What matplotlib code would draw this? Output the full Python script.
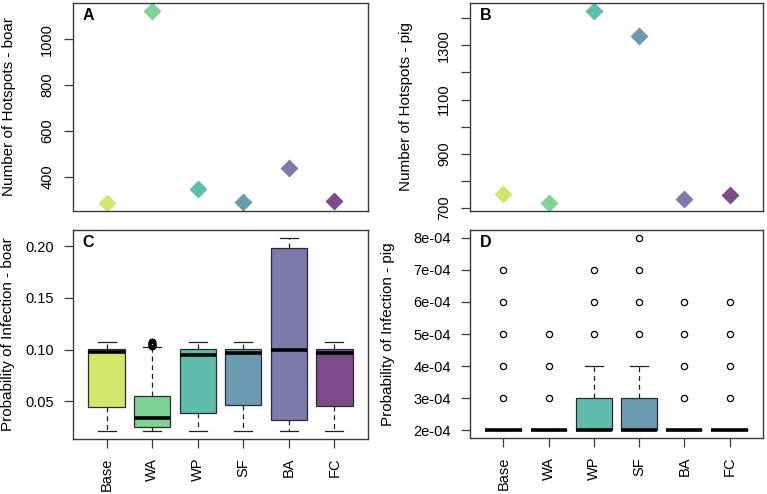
import matplotlib
matplotlib.use('Agg')
import matplotlib.pyplot as plt

plt.rcParams['font.family'] = ['Liberation Sans', 'DejaVu Sans']

# scenarios and colours
groups = ['Base', 'WA', 'WP', 'SF', 'BA', 'FC']
colors = ['#D2E66B', '#80D395', '#60BDAC', '#6A9BB1', '#7B7AAA', '#7D4B87']

# number of hotspots per scenario
hotspots_boar = [284, 1125, 345, 291, 440, 293]
hotspots_pig = [753, 718, 1427, 1333, 732, 748]

# boxplot stats - probability of infection, boar
boar_lo = [0.021, 0.021, 0.021, 0.021, 0.021, 0.021]
boar_q1 = [0.0448, 0.0255, 0.0383, 0.0465, 0.0319, 0.0458]
boar_med = [0.0974, 0.0338, 0.0948, 0.0971, 0.0992, 0.0970]
boar_q3 = [0.1006, 0.0555, 0.1003, 0.1003, 0.1979, 0.1003]
boar_hi = [0.1076, 0.1025, 0.1071, 0.1071, 0.2083, 0.1078]
boar_fliers = [[], [0.1031, 0.1034, 0.1037, 0.1040, 0.1043, 0.1046, 0.1049, 0.1052, 0.1055,
                    0.1058, 0.1061, 0.1064, 0.1067, 0.1070, 0.1073, 0.1076],
               [], [], [], []]

# boxplot stats - probability of infection, pig
pig_lo = [2e-4, 2e-4, 2e-4, 2e-4, 2e-4, 2e-4]
pig_q1 = [2e-4, 2e-4, 2e-4, 2e-4, 2e-4, 2e-4]
pig_med = [2e-4, 2e-4, 2e-4, 2e-4, 2e-4, 2e-4]
pig_q3 = [2e-4, 2e-4, 3e-4, 3e-4, 2e-4, 2e-4]
pig_hi = [2e-4, 2e-4, 4e-4, 4e-4, 2e-4, 2e-4]
pig_fliers = [[3e-4, 4e-4, 5e-4, 6e-4, 7e-4], [3e-4, 4e-4, 5e-4], [5e-4, 6e-4, 7e-4],
              [5e-4, 6e-4, 7e-4, 8e-4], [3e-4, 4e-4, 5e-4, 6e-4], [3e-4, 4e-4, 5e-4, 6e-4]]

W, H = 767, 494
fig = plt.figure(figsize=(W / 100, H / 100), dpi=100)

def px_axes(l, t, r, b):
    return fig.add_axes([l / W, 1 - b / H, (r - l) / W, (b - t) / H])

axA = px_axes(73, 3, 368, 211)
axB = px_axes(470, 3, 763, 211)
axC = px_axes(73, 230, 368, 439)
axD = px_axes(470, 230, 763, 438)

FS = 10.5
LFS = 11
frame = '#3a3a3a'
xpos = list(range(1, len(groups) + 1))

def style(ax, letter):
    for s in ax.spines.values():
        s.set_color(frame)
        s.set_linewidth(1.0)
    ax.tick_params(length=6.5, width=0.9, color=frame, labelsize=FS, pad=7)
    ax.set_xlim(0.26, len(groups) + 0.74)
    ax.text(0.033, 0.975, letter, transform=ax.transAxes, fontsize=FS + 1,
            fontweight='bold', ha='left', va='top')

def pad_range(vals):
    lo, hi = min(vals), max(vals)
    p = 0.04 * (hi - lo)
    return lo - p, hi + p

# A and B: diamonds
for ax, vals, lab, letter, ticks, shown in [
        (axA, hotspots_boar, 'Number of Hotspots - boar', 'A',
         [400, 600, 800, 1000], [400, 600, 800, 1000]),
        (axB, hotspots_pig, 'Number of Hotspots - pig', 'B',
         [700, 800, 900, 1000, 1100, 1200, 1300, 1400], [700, 900, 1100, 1300])]:
    for x, v, c in zip(xpos, vals, colors):
        ax.plot(x, v, marker='D', markersize=9.5, color=c, mec='none', ls='none')
    style(ax, letter)
    ax.set_ylim(*pad_range(vals))
    ax.set_xticks([])
    ax.set_yticks(ticks)
    ax.set_yticklabels([str(t) if t in shown else '' for t in ticks],
                       rotation=90, va='center')
    ax.set_ylabel(lab, fontsize=LFS, va='center')
    ax.yaxis.set_label_coords(-0.218, 0.5)

# C and D: boxplots
def make_stats(lo, q1, med, q3, hi, fl):
    return [dict(whislo=a, q1=b, med=m, q3=c, whishi=d, fliers=f)
            for a, b, m, c, d, f in zip(lo, q1, med, q3, hi, fl)]

for ax, stats, lab, letter, ticks, tlabels, lx in [
        (axC, make_stats(boar_lo, boar_q1, boar_med, boar_q3, boar_hi, boar_fliers),
         'Probability of Infection - boar', 'C',
         [0.05, 0.10, 0.15, 0.20], ['0.05', '0.10', '0.15', '0.20'], -0.222),
        (axD, make_stats(pig_lo, pig_q1, pig_med, pig_q3, pig_hi, pig_fliers),
         'Probability of Infection - pig', 'D',
         [2e-4, 3e-4, 4e-4, 5e-4, 6e-4, 7e-4, 8e-4],
         ['2e-04', '3e-04', '4e-04', '5e-04', '6e-04', '7e-04', '8e-04'], -0.28)]:
    bp = ax.bxp(stats, positions=xpos, widths=0.8, capwidths=0.4, patch_artist=True,
                boxprops=dict(edgecolor='#2b2b2b', linewidth=0.9),
                medianprops=dict(color='black', linewidth=2.6, solid_capstyle='butt'),
                whiskerprops=dict(color='#222222', linewidth=0.9, dashes=(4, 3)),
                capprops=dict(color='#222222', linewidth=0.9),
                flierprops=dict(marker='o', markersize=4.5, markerfacecolor='none',
                                markeredgecolor='black', markeredgewidth=0.9))
    for patch, c in zip(bp['boxes'], colors):
        patch.set_facecolor(c)
    allv = [v for s in stats for v in [s['whislo'], s['whishi']] + list(s['fliers'])]
    style(ax, letter)
    ax.set_ylim(*pad_range(allv))
    ax.set_xticks(xpos)
    ax.set_xticklabels(groups, rotation=90, va='top', ha='center')
    ax.set_yticks(ticks)
    ax.set_yticklabels(tlabels)
    ax.set_ylabel(lab, fontsize=LFS, va='center')
    ax.yaxis.set_label_coords(lx, 0.5)

fig.savefig('out.png', dpi=100)
